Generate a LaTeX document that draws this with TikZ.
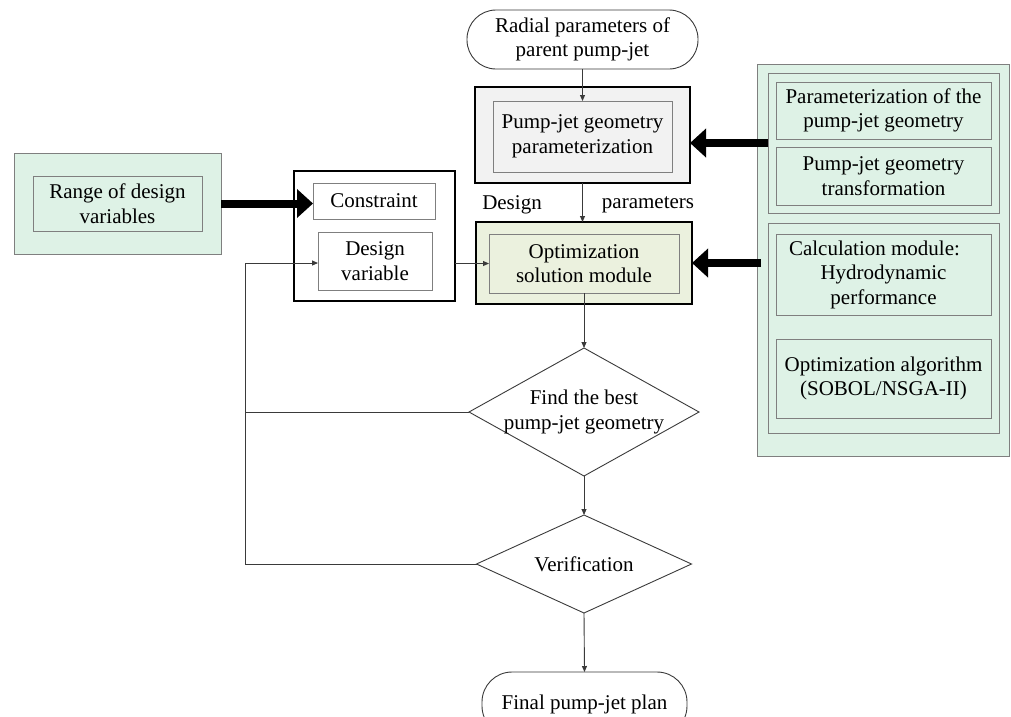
\documentclass[tikz,border=0pt]{standalone}
\usepackage{fontspec}
\setmainfont{Liberation Serif}
\usetikzlibrary{shapes.geometric,arrows.meta,calc}
\definecolor{mintfill}{HTML}{DEF2E6}
\definecolor{grayfill}{HTML}{F2F2F2}
\definecolor{olivefill}{HTML}{EBF1DE}
\definecolor{edgegray}{HTML}{7F7F7F}
\definecolor{linegray}{HTML}{3A3A3A}
\begin{document}
\begin{tikzpicture}[x=1pt,y=-1pt,
  every node/.style={font=\fontsize{21}{24.5}\selectfont, inner sep=0pt, outer sep=0pt, align=center},
  bx/.style={draw=edgegray, line width=0.9pt, rectangle},
  thickbx/.style={draw=black, line width=2.5pt, rectangle},
  termbx/.style={draw=linegray, line width=0.9pt, rectangle},
  decide/.style={diamond, draw=linegray, line width=0.9pt},
  conn/.style={draw=linegray, line width=0.9pt, -{Triangle[length=6pt,width=5pt]}},
  plainline/.style={draw=linegray, line width=0.9pt},
  bigarrow/.style={draw=black, line width=8pt, -{Triangle[length=16pt,width=28pt]}}
]
\useasboundingbox (0,0) rectangle (1011,716);

% top terminal
\node[termbx, rounded corners=29pt, minimum width=231pt, minimum height=59pt] (term1) at (582.5,39.5) {Radial parameters of\\parent pump-jet};

% parameterization box
\node[thickbx, fill=grayfill, minimum width=215pt, minimum height=96pt] (pout) at (582.5,135) {};
\node[bx, minimum width=179pt, minimum height=71pt] (pin) at (582.5,136.5) {Pump-jet geometry\\parameterization};

% optimization box
\node[thickbx, fill=olivefill, minimum width=216pt, minimum height=82pt] (oout) at (584,263) {};
\node[bx, minimum width=190pt, minimum height=59pt] (oin) at (584,263.5) {Optimization\\solution module};

% labels
\node (lbldesign) at (512,205) {Design};
\node (lblparam) at (648,205) {parameters};

% diamonds
\node[decide, minimum width=230pt, minimum height=128pt] (d1) at (584,412) {};
\node (d1t) at (d1) {Find the best\\pump-jet geometry};
\node[decide, minimum width=215pt, minimum height=98pt] (d2) at (584,564) {};
\node (d2t) at (d2) {Verification};

% final terminal
\node[termbx, rounded corners=30pt, minimum width=205pt, minimum height=64pt] (term2) at (584.5,704) {Final pump-jet plan};

% left range box
\node[bx, fill=mintfill, minimum width=207pt, minimum height=101pt] (lout) at (117.5,203.5) {};
\node[bx, minimum width=169pt, minimum height=55pt] (lin) at (117.5,203.5) {Range of design\\variables};

% constraint container
\node[thickbx, fill=white, minimum width=161pt, minimum height=130pt] (cont) at (374.5,236) {};
\node[bx, minimum width=122pt, minimum height=36pt] (cons) at (374,201) {Constraint};
\node[bx, minimum width=114pt, minimum height=58pt] (dvar) at (375,261) {Design\\variable};

% right panel
\node[bx, fill=mintfill, minimum width=252pt, minimum height=392pt] (rp) at (883,260) {};
\node[bx, minimum width=231pt, minimum height=140pt] (g1) at (883.5,143) {};
\node[bx, minimum width=215pt, minimum height=57pt] (ba) at (883.5,110.5) {Parameterization of the\\pump-jet geometry};
\node[bx, minimum width=215pt, minimum height=58pt] (bb) at (883.5,176) {Pump-jet geometry\\transformation};
\node[bx, minimum width=231pt, minimum height=210pt] (g2) at (883.5,328) {};
\node[bx, minimum width=215pt, minimum height=81pt] (bc) at (883.5,274.5) {Calculation module:\rule{18pt}{0pt}\\Hydrodynamic\\performance};
\node[bx, minimum width=215pt, minimum height=79pt] (bd) at (883.5,378.5) {Optimization algorithm\\(SOBOL/NSGA-II)};

% feedback coordinate
\coordinate (fb) at (245,263);

% connectors
\draw[conn] (term1.south) -- (pin.north);
\draw[conn] (pout.south) -- (pout.south |- oout.north);
\draw[conn] (oin.south) -- (d1.north);
\draw[conn] (d1.south) -- (d2.north);
\draw[conn] (d2.south) -- (term2.north);
\draw[plainline] (d1.west) -- (d1.west -| fb);
\draw[conn] (d2.west) -- (d2.west -| fb) -- (fb) -- (fb -| dvar.west);
\draw[conn] (oin.west -| cont.east) -- (oin.west);

% thick arrows
\draw[bigarrow] (lout.east) -- (lout.east -| cons.west);
\draw[bigarrow] (g1.west) -- (g1.west -| pout.east);
\draw[bigarrow] ($(rp.west |- oout.east)+(4,0)$) -- (oout.east);
\end{tikzpicture}
\end{document}
